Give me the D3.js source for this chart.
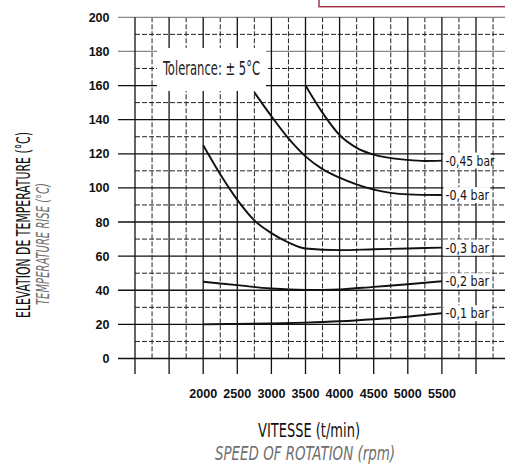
<!DOCTYPE html>
<html><head><meta charset="utf-8">
<script src="https://cdn.jsdelivr.net/npm/d3@7"></script>
<style>
html,body{margin:0;padding:0;background:#fff;}
svg{display:block;}
</style></head>
<body>
<svg id="chart" width="505" height="467"></svg>
<script>
// ---- data ----
const seriesNames = ["-0,45 bar", "-0,4 bar", "-0,3 bar", "-0,2 bar", "-0,1 bar"];
const rpm045 = [3500, 3750, 4000, 4250, 4500, 5000, 5250, 5500];
const val045 = [160, 144, 131, 123.5, 119.5, 116.4, 115.8, 116];
const rpm04 = [2750, 3000, 3250, 3500, 3750, 4000, 4500, 5000, 5500];
const val04 = [156, 142, 129, 118.5, 111, 106, 99, 96.2, 95.8];
const rpm03 = [2000, 2250, 2500, 2750, 3000, 3250, 3500, 4000, 4500, 5000, 5500];
const val03 = [125, 108, 93, 81, 73.5, 68, 64.5, 63.5, 64, 64.5, 65];
const rpm02 = [2000, 2500, 3000, 3500, 4000, 4500, 5000, 5500];
const val02 = [45, 43, 41, 40.2, 40.5, 42, 43.5, 45.3];
const rpm01 = [2000, 2500, 3000, 3500, 4000, 4500, 5000, 5500];
const val01 = [20, 20.3, 20.5, 21, 21.8, 23, 24.5, 26.5];
const xTickLabels = [2000, 2500, 3000, 3500, 4000, 4500, 5000, 5500];
const yTickLabels = [0, 20, 40, 60, 80, 100, 120, 140, 160, 180, 200];
const toleranceText = "Tolerance: ± 5°C";

const series = [
  {name: seriesNames[0], rpm: rpm045, val: val045},
  {name: seriesNames[1], rpm: rpm04, val: val04},
  {name: seriesNames[2], rpm: rpm03, val: val03},
  {name: seriesNames[3], rpm: rpm02, val: val02},
  {name: seriesNames[4], rpm: rpm01, val: val01}
];

const svg = d3.select("#chart");
const x = d3.scaleLinear().domain([1000, 6000]).range([135, 476]);
const y = d3.scaleLinear().domain([0, 200]).range([358.5, 17.3]);
const narrow = "'Liberation Sans Narrow','DejaVu Sans Condensed','Roboto Condensed',sans-serif";

// pink frame at top right
svg.append("rect").attr("x", 319).attr("y", -10).attr("width", 200).attr("height", 16.7)
  .attr("fill", "none").attr("stroke", "#a8344f").attr("stroke-width", 1.5);

const grid = svg.append("g");
// minor horizontal (dashed)
const yMinor = d3.range(10, 200, 20);
grid.selectAll(".hmin").data(yMinor).join("line")
  .attr("x1", x(1000)).attr("x2", 505)
  .attr("y1", d => y(d)).attr("y2", d => y(d))
  .attr("stroke", "#222").attr("stroke-width", 1).attr("stroke-dasharray", "5,2");
// minor vertical (dashed)
const xMinor = d3.range(1250, 6500, 500);
grid.selectAll(".vmin").data(xMinor).join("line")
  .attr("x1", d => x(d)).attr("x2", d => x(d))
  .attr("y1", y(200)).attr("y2", y(0))
  .attr("stroke", "#222").attr("stroke-width", 1).attr("stroke-dasharray", "5,2");
// major horizontal
grid.selectAll(".hmaj").data(yTickLabels).join("line")
  .attr("x1", 118).attr("x2", 505)
  .attr("y1", d => y(d)).attr("y2", d => y(d))
  .attr("stroke", d => d >= 180 ? "#888" : "#111").attr("stroke-width", 1.3);
// major vertical
const xMajor = d3.range(1000, 6001, 500);
grid.selectAll(".vmaj").data(xMajor).join("line")
  .attr("x1", d => x(d)).attr("x2", d => x(d))
  .attr("y1", y(200)).attr("y2", 374)
  .attr("stroke", "#111").attr("stroke-width", 1.3);

// curves
const line = d3.line().x(d => x(d[0])).y(d => y(d[1])).curve(d3.curveMonotoneX);
svg.append("g").selectAll("path").data(series).join("path")
  .attr("d", s => line(s.rpm.map((r, i) => [r, s.val[i]])))
  .attr("fill", "none").attr("stroke", "#111").attr("stroke-width", 1.9);

// tolerance box
svg.append("rect").attr("x", 157).attr("y", 48).attr("width", 109).attr("height", 43).attr("fill", "#fff");
svg.append("text").attr("x", 163).attr("y", 74.5).text(toleranceText)
  .attr("font-family", narrow).attr("font-size", 19).attr("fill", "#222")
  .attr("textLength", 97).attr("lengthAdjust", "spacingAndGlyphs");

// series labels
const lab = svg.append("g").selectAll("g").data(series).join("g")
  .attr("transform", s => `translate(${x(5500)},${y(s.val[s.val.length - 1])})`);
lab.append("rect").attr("x", 1.5).attr("y", -8).attr("width", 47).attr("height", 16).attr("fill", "#fff");
lab.append("text").attr("x", 3.5).attr("y", 5).text(s => s.name)
  .attr("font-family", narrow).attr("font-size", 14.5).attr("fill", "#111")
  .attr("textLength", s => s.name.length * 5.45).attr("lengthAdjust", "spacingAndGlyphs");

// y tick labels
svg.append("g").selectAll("text").data(yTickLabels).join("text")
  .attr("x", 109.5).attr("y", d => y(d) + 4.5).attr("text-anchor", "end").text(d => d)
  .attr("font-family", "'Liberation Sans',Arial,sans-serif").attr("font-weight", "bold")
  .attr("font-size", 12.5).attr("fill", "#111");
// x tick labels
svg.append("g").selectAll("text").data(xTickLabels).join("text")
  .attr("x", d => x(d)).attr("y", 397.5).attr("text-anchor", "middle").text(d => d)
  .attr("font-family", "'Liberation Sans',Arial,sans-serif").attr("font-weight", "bold")
  .attr("font-size", 13.5).attr("fill", "#111")
  .attr("textLength", 28).attr("lengthAdjust", "spacingAndGlyphs");

// axis titles
svg.append("text").attr("transform", "translate(30,225) rotate(-90)").attr("text-anchor", "middle")
  .text("ELEVATION DE TEMPERATURE (°C)")
  .attr("font-family", narrow).attr("font-size", 20).attr("fill", "#111")
  .attr("textLength", 186).attr("lengthAdjust", "spacingAndGlyphs");
svg.append("text").attr("transform", "translate(48.5,244) rotate(-90)").attr("text-anchor", "middle")
  .text("TEMPERATURE RISE (°C)")
  .attr("font-family", narrow).attr("font-style", "italic").attr("font-size", 18).attr("fill", "#6e6e6e")
  .attr("textLength", 122).attr("lengthAdjust", "spacingAndGlyphs");
svg.append("text").attr("x", 309).attr("y", 436.5).attr("text-anchor", "middle")
  .text("VITESSE (t/min)")
  .attr("font-family", narrow).attr("font-size", 20).attr("fill", "#111")
  .attr("textLength", 102).attr("lengthAdjust", "spacingAndGlyphs");
svg.append("text").attr("x", 305).attr("y", 460).attr("text-anchor", "middle")
  .text("SPEED OF ROTATION (rpm)")
  .attr("font-family", narrow).attr("font-style", "italic").attr("font-size", 19).attr("fill", "#6e6e6e")
  .attr("textLength", 180).attr("lengthAdjust", "spacingAndGlyphs");
</script>
</body></html>
